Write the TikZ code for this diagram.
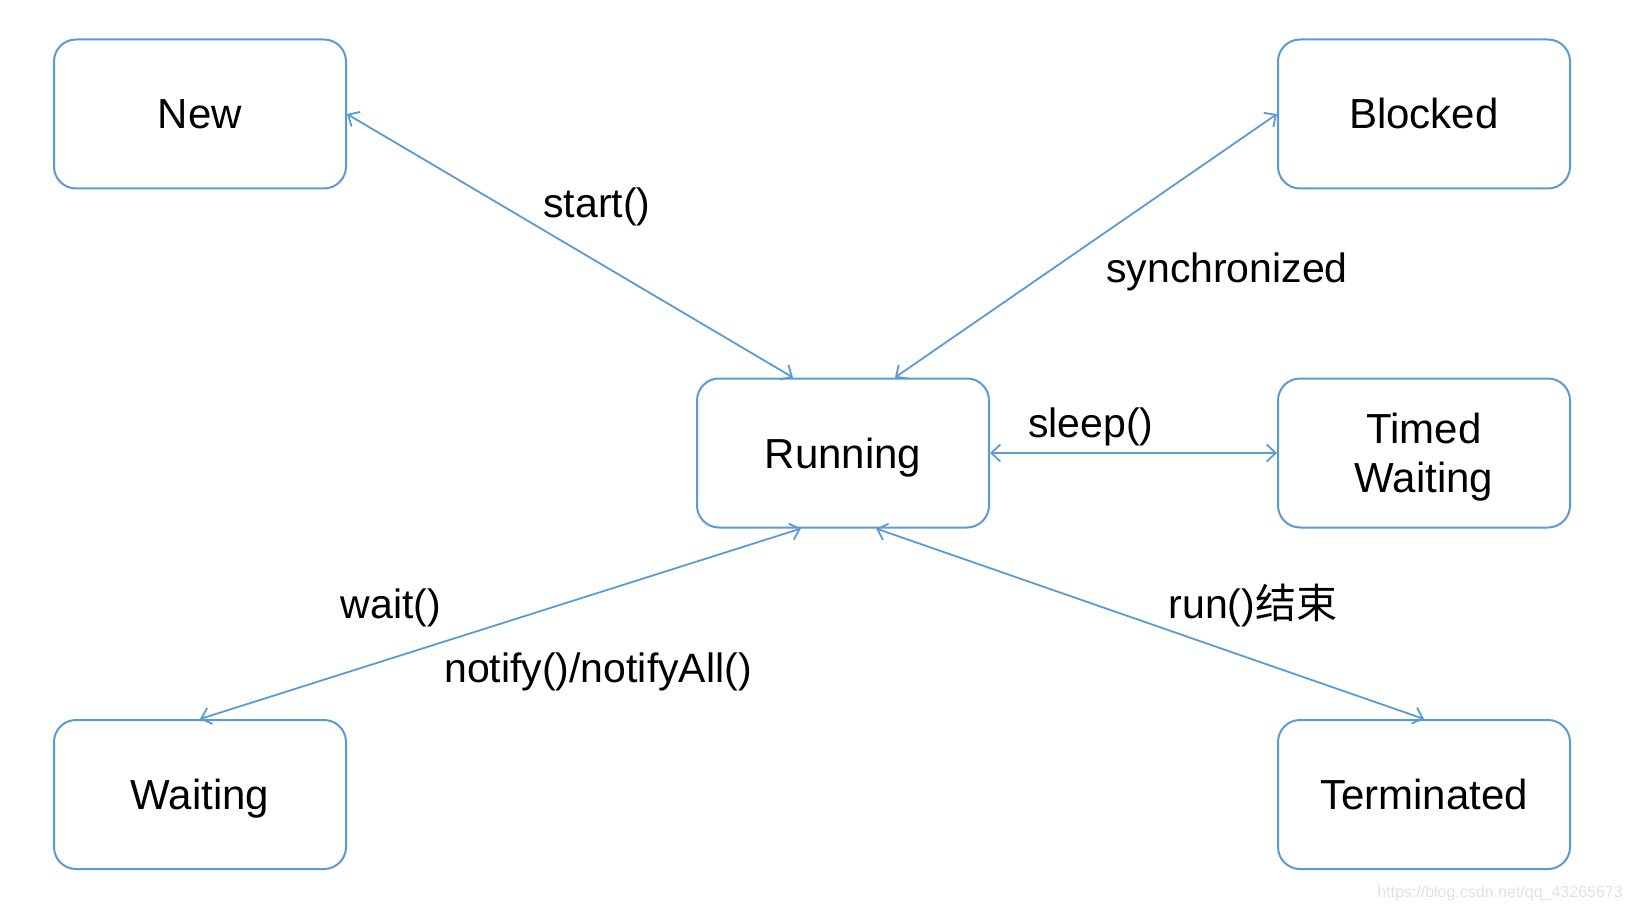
\documentclass[tikz,border=0pt]{standalone}
\usepackage{fontspec}
\setmainfont{Liberation Sans}
\newfontfamily\cjk{Noto Sans CJK SC}
\usetikzlibrary{arrows.meta,calc}
\definecolor{lineblue}{RGB}{91,155,213}
\definecolor{wmgray}{RGB}{225,225,225}
\begin{document}
\begin{tikzpicture}[x=1pt,y=-1pt,
  state/.style={draw=lineblue,line width=2pt,rounded corners=22pt,minimum width=292pt,minimum height=149pt,align=center,font=\fontsize{42}{49}\selectfont,inner sep=0pt,text height=30pt,text depth=0pt},
  conn/.style={draw=lineblue,line width=1.8pt,{Straight Barb[length=9pt,width=17pt,line width=1.8pt]}-{Straight Barb[length=9pt,width=17pt,line width=1.8pt]}},
  lbl/.style={font=\fontsize{41}{49}\selectfont,inner sep=0pt,text height=29.5pt,text depth=0pt}]
\useasboundingbox (0,0) rectangle (1632,912);
\node[state] (new) at (200,114) {New};
\node[state] (blocked) at (1424,114) {Blocked};
\node[state] (running) at (843,453) {Running};
\node[state,text height=79pt] (timed) at (1424,453) {Timed\\Waiting};
\node[state] (waiting) at (200,794.5) {Waiting};
\node[state] (term) at (1424,794.5) {Terminated};
\coordinate (rtl) at ($(running.north)+(-50,0)$);
\coordinate (rtr) at ($(running.north)+(52,0)$);
\coordinate (rbl) at ($(running.south)+(-42,0)$);
\coordinate (rbr) at ($(running.south)+(33,0)$);
\draw[conn] (new.east) -- (rtl);
\draw[conn] (blocked.west) -- (rtr);
\draw[conn] (running.east) -- (timed.west);
\draw[conn] (waiting.north) -- (rbl);
\draw[conn] (term.north) -- (rbr);
\node[lbl] (l1) at (597,203) {start()};
\node[lbl] (l2) at (1227,268) {synchronized};
\node[lbl] (l3) at (1091,423) {sleep()};
\node[lbl] (l4) at (391,604) {wait()};
\node[lbl] (l5) at (598,668) {notify()/notifyAll()};
\node[lbl] (l6) at (1253,604) {run(){\cjk 结束}};
\node[font=\fontsize{16}{19}\selectfont,text=wmgray,inner sep=0pt] (wm) at (1500,893) {https://blog.csdn.net/qq\_43265673};
\end{tikzpicture}
\end{document}
